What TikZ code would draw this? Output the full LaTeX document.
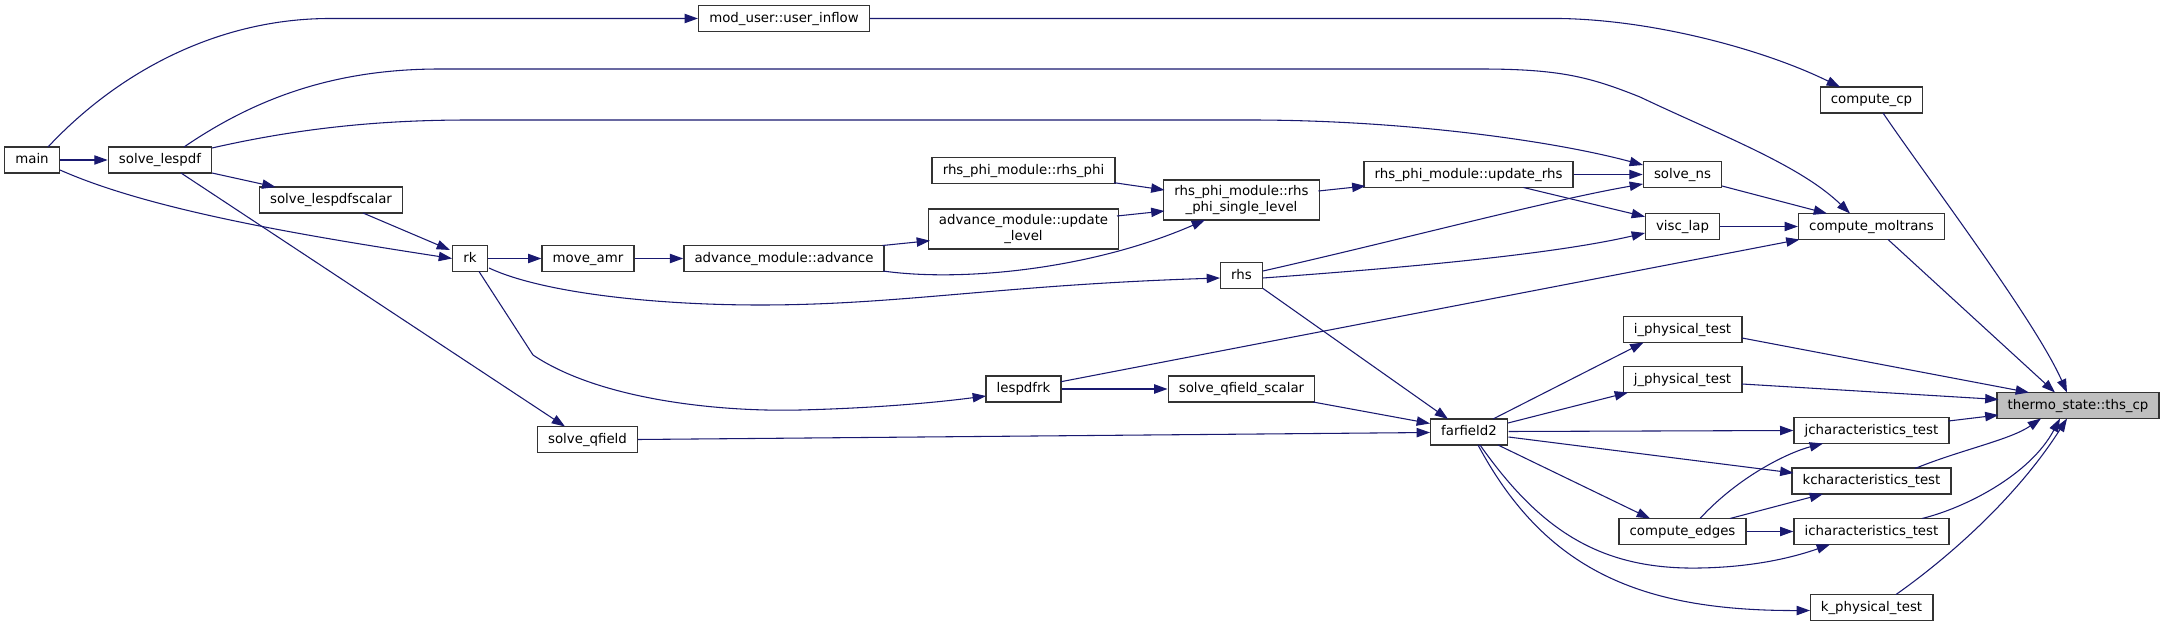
\documentclass[tikz,border=0pt]{standalone}
\usepackage{fontspec}
\setmainfont{DejaVu Sans}
\usetikzlibrary{arrows.meta,calc}
\definecolor{edgeblue}{HTML}{191970}
\definecolor{nodegray}{HTML}{BFBFBF}
\definecolor{boxline}{HTML}{333333}
\begin{document}
\begin{tikzpicture}[x=0.75pt,y=-0.75pt,
  base/.style={draw=boxline, line width=1pt, fill=white, inner xsep=8pt, inner ysep=0pt, font=\fontsize{10}{11.5}\selectfont},
  fn/.style={base, minimum height=19.5pt, text height=7.5pt, text depth=2.2pt},
  fn2/.style={base, minimum height=30pt, align=center},
  call/.style={draw=edgeblue, line width=0.8pt, -{Triangle[length=10pt,width=7pt]}}
]
\path[use as bounding box, fill=white] (0,0) rectangle (2163,627);

% nodes
\node[fn] (main) at (32,160) {main};
\node[fn] (lespdf) at (160,160) {solve\_lespdf};
\node[fn] (lespdfscalar) at (331,200) {solve\_lespdfscalar};
\node[fn] (rk) at (470,258.5) {rk};
\node[fn] (moveamr) at (588,258.5) {move\_amr};
\node[fn] (advance) at (784,258.5) {advance\_module::advance};
\node[fn] (inflow) at (784,18.5) {mod\_user::user\_inflow};
\node[fn] (rhsphi) at (1023.5,170.5) {rhs\_phi\_module::rhs\_phi};
\node[fn2] (updlevel) at (1023.5,229) {advance\_module::update\\\_level};
\node[fn2] (single) at (1241.5,200) {rhs\_phi\_module::rhs\\\_phi\_single\_level};
\node[fn] (updrhs) at (1468.5,174.5) {rhs\_phi\_module::update\_rhs};
\node[fn] (rhs) at (1241.5,275.5) {rhs};
\node[fn] (cp) at (1871.5,100) {compute\_cp};
\node[fn] (ns) at (1682.5,174.5) {solve\_ns};
\node[fn] (visclap) at (1682.5,226.5) {visc\_lap};
\node[fn] (moltrans) at (1871.5,226.5) {compute\_moltrans};
\node[fn] (iphys) at (1682.5,329.5) {i\_physical\_test};
\node[fn] (jphys) at (1682.5,379.5) {j\_physical\_test};
\node[fn, fill=nodegray] (thscp) at (2078,405.5) {thermo\_state::ths\_cp};
\node[fn] (farfield) at (1469,432) {farfield2};
\node[fn] (jchar) at (1871.5,430.5) {jcharacteristics\_test};
\node[fn] (kchar) at (1871.5,481) {kcharacteristics\_test};
\node[fn] (edges) at (1682.5,531.5) {compute\_edges};
\node[fn] (ichar) at (1871.5,531.5) {icharacteristics\_test};
\node[fn] (kphys) at (1871.5,607.5) {k\_physical\_test};
\node[fn] (qfield) at (587.5,439.5) {solve\_qfield};
\node[fn] (lespdfrk) at (1023.5,389) {lespdfrk};
\node[fn] (qfieldscalar) at (1241.5,389) {solve\_qfield\_scalar};

% connectors
\draw[call] ($(main)+(16,-13)$) .. controls (120,70) and (220,18.5) .. (330,18.5) -- (inflow.west);
\draw[call] (main.east) -- (lespdf.west);
\draw[call] ($(main)+(28,10)$) .. controls (150,210) and (300,235) .. (rk.west);
\draw[call] ($(lespdf)+(24,-13)$) .. controls (260,95) and (340,69) .. (440,69) -- (1480,69)
   .. controls (1560,69) and (1590,77) .. (1640,97) .. controls (1720,135) and (1800,165) .. ($(moltrans)+(-21.5,-13)$);
\draw[call] ($(lespdf)+(52,-12)$) .. controls (300,128) and (380,120) .. (470,120) -- (1250,120)
   .. controls (1400,120) and (1550,140) .. ($(ns)+(-39.5,-9.5)$);
\draw[call] ($(lespdf)+(52,13)$) -- ($(lespdfscalar)+(-55.5,-13)$);
\draw[call] ($(lespdf)+(21,13)$) -- ($(qfield)+(-22.5,-13)$);
\draw[call] ($(lespdfscalar)+(32,13)$) -- ($(rk)+(-20,-8.5)$);
\draw[call] (rk.east) -- (moveamr.west);
\draw[call] ($(rk)+(19,9.5)$) .. controls (540,292) and (650,305) .. (760,305)
   .. controls (900,305) and (1000,285) .. ($(rhs)+(-21.5,2.5)$);
\draw[call] ($(rk)+(9,13)$) -- (533,355) .. controls (600,400) and (720,412) .. (800,410)
   .. controls (880,408) and (940,402) .. ($(lespdfrk)+(-37.5,7)$);
\draw[call] (moveamr.east) -- (advance.west);
\draw[call] ($(advance)+(98.5,-13)$) -- ($(updlevel)+(-93.5,11.7)$);
\draw[call] ($(advance)+(99,12.5)$) .. controls (960,282) and (1090,270) .. ($(single)+(-36.5,20)$);
\draw[call] ($(rhsphi)+(90.5,12.2)$) -- ($(single)+(-77,-10)$);
\draw[call] ($(updlevel)+(93.5,-13)$) -- ($(single)+(-77,11)$);
\draw[call] ($(single)+(77,-9)$) -- ($(updrhs)+(-103,11.5)$);
\draw[call] (updrhs.east) -- (ns.west);
\draw[call] ($(updrhs)+(55,13)$) -- ($(visclap)+(-37.5,-9.8)$);
\draw[call] ($(rhs)+(21.5,-4.5)$) .. controls (1400,240) and (1550,200) .. ($(ns)+(-39.5,9.5)$);
\draw[call] ($(rhs)+(21.5,2.5)$) .. controls (1400,268) and (1550,255) .. ($(visclap)+(-37.5,6.5)$);
\draw[call] ($(rhs)+(21.5,13)$) -- ($(farfield)+(-21,-13)$);
\draw[call] ($(ns)+(39.5,11.5)$) -- ($(moltrans)+(-44.5,-13)$);
\draw[call] (visclap.east) -- (moltrans.west);
\draw[call] ($(moltrans)+(16.5,13)$) -- ($(thscp)+(-23,-13)$);
\draw[call] ($(cp)+(11.5,13)$) .. controls (1925,175) and (2035,320) .. ($(thscp)+(-11,-13)$);
\draw[call] (inflow.east) -- (1560,18.5) .. controls (1655,20) and (1765,50) .. ($(cp)+(-31.5,-13)$);
\draw[call] ($(lespdfrk)+(37.5,-7.3)$) -- ($(moltrans)+(-72,13)$);
\draw[call] (lespdfrk.east) -- (qfieldscalar.west);
\draw[call] ($(qfieldscalar)+(71.5,13)$) -- ($(farfield)+(-39,-8.5)$);
\draw[call] (qfield.east) -- ($(farfield)+(-39,0.5)$);
\draw[call] ($(farfield)+(24,-13)$) -- ($(iphys)+(-39,13)$);
\draw[call] ($(farfield)+(39,-9)$) -- ($(jphys)+(-54.5,13)$);
\draw[call] ($(farfield)+(39.5,-0.5)$) -- (jchar.west);
\draw[call] ($(farfield)+(39.5,5)$) -- ($(kchar)+(-78,-8)$);
\draw[call] ($(farfield)+(29,13)$) -- ($(edges)+(-32.5,-13)$);
\draw[call] ($(farfield)+(11,13)$) .. controls (1540,530) and (1600,570) .. (1700,568)
   .. controls (1760,567) and (1800,555) .. ($(ichar)+(-41.5,13)$);
\draw[call] ($(farfield)+(9,13)$) .. controls (1545,570) and (1640,611) .. ($(kphys)+(-61.5,3)$);
\draw[call] ($(edges)+(17.5,-13)$) .. controls (1740,475) and (1790,452) .. ($(jchar)+(-48.5,13)$);
\draw[call] ($(edges)+(47.5,-13)$) -- ($(kchar)+(-48.5,13)$);
\draw[call] (edges.east) -- (ichar.west);
\draw[call] ($(iphys)+(59.5,8.5)$) -- ($(thscp)+(-49,-13)$);
\draw[call] ($(jphys)+(59.5,4.5)$) -- ($(thscp)+(-79.5,-6)$);
\draw[call] ($(jchar)+(77,-9.5)$) -- ($(thscp)+(-79.5,9.5)$);
\draw[call] ($(kchar)+(43.5,-12.5)$) .. controls (1960,450) and (2010,440) .. ($(thscp)+(-37,13)$);
\draw[call] ($(ichar)+(50.5,-13)$) .. controls (1965,508) and (2030,475) .. ($(thscp)+(-18,13)$);
\draw[call] ($(kphys)+(24.5,-13)$) .. controls (1945,560) and (2015,500) .. ($(thscp)+(-11,13)$);
\end{tikzpicture}
\end{document}
